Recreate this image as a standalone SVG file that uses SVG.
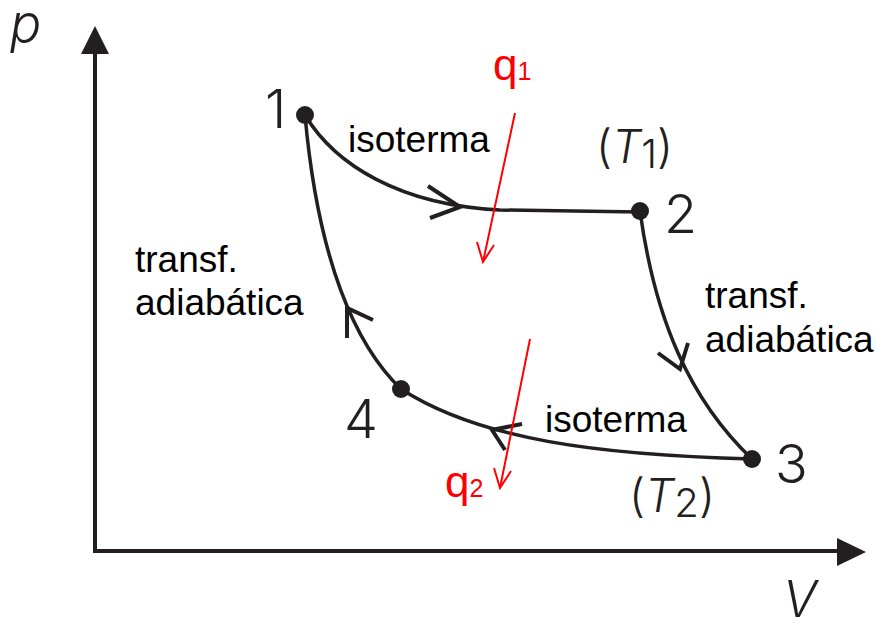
<svg xmlns="http://www.w3.org/2000/svg" width="876" height="623" viewBox="0 0 876 623">
<style>
.ax{stroke:#231f20;stroke-width:4;fill:none}
.cv{stroke:#231f20;stroke-width:3.5;fill:none}
.chev{stroke:#231f20;stroke-width:4;fill:none;stroke-linecap:butt}
.dot{fill:#231f20}
.num{font-family:Inter,"Liberation Sans",sans-serif;font-weight:300;font-size:54px;fill:#231f20}
.it{font-family:Inter,"Liberation Sans",sans-serif;font-weight:300;font-style:italic;fill:#231f20}
.lbl{font-family:"Liberation Sans",Arial,sans-serif;font-size:37px;fill:#000}
.red{font-family:"Liberation Sans",Arial,sans-serif;fill:#ff0000}
.ra{stroke:#ff0000;stroke-width:2;fill:none}
</style>
<rect width="876" height="623" fill="#fff"/>
<g id="axes">
<line class="ax" x1="95" y1="552" x2="95" y2="50"/>
<polygon points="95,26 81,54 109,54" fill="#231f20"/>
<line class="ax" x1="93" y1="551" x2="840" y2="551"/>
<polygon points="866,552 837,538 837,566" fill="#231f20"/>
<text class="it" x="10" y="42" font-size="52">p</text>
<text class="it" x="783" y="617" font-size="50">V</text>
</g>
<g id="connectors">
<path class="cv" d="M305,115 C335,165 400,205 500,210 L640,212"/>
<polyline class="chev" points="428,186 460,207 430,218"/>
<path class="cv" d="M640,211 C655,320 690,400 752,459"/>
<polyline class="chev" points="658,353 680,369 688,343"/>
<path class="cv" d="M752,459 C600,455 480,440 401,389"/>
<polyline class="chev" points="522,424 492,430 505,450"/>
<path class="cv" d="M401,389 C355,345 318,260 305,115"/>
<polyline class="chev" points="373,320 347,308 347,338"/>
</g>
<g id="node1"><circle class="dot" cx="305" cy="115" r="9"/><text class="num" x="265" y="128">1</text></g>
<g id="node2"><circle class="dot" cx="640" cy="211" r="9"/><text class="num" x="664" y="233">2</text></g>
<g id="node3"><circle class="dot" cx="752" cy="459" r="9"/><text class="num" x="775" y="483">3</text></g>
<g id="node4"><circle class="dot" cx="401" cy="389" r="9"/><text class="num" x="344" y="438">4</text></g>
<g id="labels">
<text class="lbl" x="348" y="152">isoterma</text>
<text class="lbl" x="545" y="432">isoterma</text>
<text class="lbl" x="135" y="272">transf.</text>
<text class="lbl" x="135" y="315">adiabática</text>
<text class="lbl" x="705" y="308">transf.</text>
<text class="lbl" x="705" y="352">adiabática</text>
<text class="it" x="596" y="163" font-size="46"><tspan font-style="normal">(</tspan>T<tspan font-style="normal" font-size="40" dy="5">1</tspan><tspan font-style="normal" dy="-5">)</tspan></text>
<text class="it" x="629" y="512" font-size="46"><tspan font-style="normal">(</tspan>T<tspan font-style="normal" font-size="40" dy="5">2</tspan><tspan font-style="normal" dy="-5">)</tspan></text>
</g>
<g id="q1"><text class="red" x="493" y="80" font-size="44">q<tspan font-size="25">1</tspan></text>
<line class="ra" x1="515" y1="113" x2="483" y2="262"/>
<polyline class="ra" points="477,242 483,262 494,245"/></g>
<g id="q2"><text class="red" x="445" y="497" font-size="44">q<tspan font-size="25">2</tspan></text>
<line class="ra" x1="530" y1="339" x2="500" y2="488"/>
<polyline class="ra" points="494,468 500,488 511,471"/></g>
</svg>
